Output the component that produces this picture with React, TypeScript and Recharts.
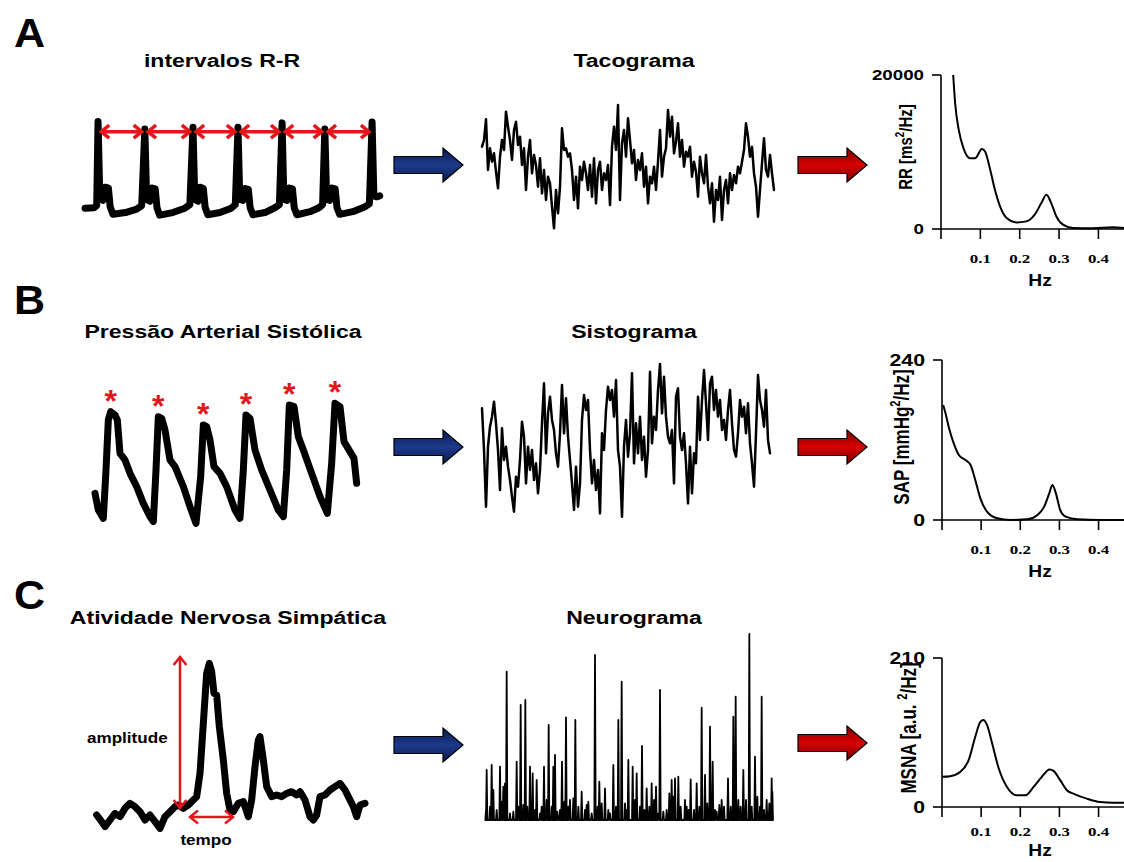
import React from "react";
import { LineChart, Line, XAxis, YAxis, ReferenceLine, ReferenceDot } from "recharts";

// ---------- A: ECG (s, mV) ----------
const ECG_TIME = [
  0.0, 0.2, 0.26, 0.29, 0.33, 0.4, 0.45, 0.52, 0.56, 0.62, 0.9, 1.15, 1.26,
  1.33, 1.37, 1.44, 1.49, 1.56, 1.6, 1.66, 1.95, 2.22, 2.33,
  2.4, 2.44, 2.51, 2.56, 2.63, 2.67, 2.73, 3.0, 3.25, 3.34,
  3.4, 3.44, 3.51, 3.56, 3.63, 3.67, 3.73, 4.0, 4.22, 4.32,
  4.38, 4.42, 4.49, 4.54, 4.61, 4.65, 4.71, 5.0, 5.2, 5.28,
  5.33, 5.37, 5.44, 5.49, 5.56, 5.6, 5.66, 5.95, 6.2, 6.32,
  6.38, 6.42, 6.48, 6.55,
];
const ECG_MV = [
  0.02, 0.03, 0.08, 2.0, 0.25, 0.2, 0.5, 0.48, 0.05, -0.12, -0.08, 0.0, 0.08,
  1.83, 0.22, 0.18, 0.48, 0.46, 0.03, -0.14, -0.08, 0.02, 0.1,
  1.87, 0.22, 0.18, 0.5, 0.47, 0.04, -0.13, -0.08, 0.02, 0.1,
  1.87, 0.22, 0.2, 0.47, 0.45, 0.03, -0.13, -0.08, 0.03, 0.1,
  1.97, 0.22, 0.2, 0.48, 0.46, 0.03, -0.13, -0.06, 0.03, 0.1,
  1.83, 0.22, 0.2, 0.48, 0.46, 0.03, -0.12, -0.06, 0.04, 0.12,
  1.99, 0.3, 0.28, 0.3,
];
const ECG_R_PEAKS = [0.29, 1.33, 2.4, 3.4, 4.38, 5.33, 6.38];

// Tacograma: RR interval (ms) per beat
const TACO_RR = [
  930, 950, 1012, 860, 925, 885, 910, 855, 805, 900,
  950, 920, 1035, 990, 950, 890, 980, 1005, 935, 960,
  875, 925, 800, 900, 950, 850, 905, 875, 810, 895,
  790, 860, 770, 840, 820, 750, 685, 800, 730, 810,
  985, 920, 925, 900, 910, 860, 770, 840, 745, 870,
  830, 885, 850, 800, 875, 780, 895, 760, 860, 885,
  800, 850, 830, 875, 755, 930, 990, 920, 1055, 770,
  940, 980, 900, 1015, 950, 880, 920, 830, 890, 860,
  910, 810, 870, 760, 840, 820, 870, 800, 885, 980,
  840, 900, 925, 1040, 960, 1020, 910, 945, 1000, 900,
  950, 870, 915, 900, 930, 840, 885, 855, 780, 900,
  850, 820, 905, 810, 760, 820, 705, 800, 770, 840,
  710, 800, 830, 760, 850, 800, 845, 820, 870, 850,
  885, 920, 1000, 960, 900, 930, 850, 810, 720, 800,
  880, 955, 860, 840, 905, 850, 800,
];

// RR spectrum
const RR_PSD_HZ = [0.031, 0.036, 0.045, 0.057, 0.074, 0.087, 0.104, 0.112, 0.125, 0.137, 0.15, 0.167, 0.192, 0.217, 0.238, 0.255, 0.268, 0.28, 0.293, 0.31, 0.335, 0.386, 0.436, 0.465];
const RR_PSD = [20000, 16300, 12900, 10500, 9200, 9200, 10400, 10050, 7700, 5100, 2950, 1430, 860, 990, 1860, 3370, 4450, 3370, 1640, 560, 130, 90, 220, 130];

// ---------- B: arterial pressure (s, mmHg) ----------
const BP_TIME = [
  0.75, 0.85, 1.0, 1.08, 1.15, 1.22, 1.35, 1.42, 1.5, 1.65,
  1.8, 2.0, 2.2, 2.4, 2.5, 2.58, 2.65, 2.75, 2.85, 3.0,
  3.15, 3.4, 3.6, 3.78, 3.92, 4.0, 4.1, 4.2, 4.32, 4.5,
  4.7, 4.95, 5.1, 5.2, 5.28, 5.4, 5.55, 5.75, 6.0, 6.25,
  6.4, 6.5, 6.58, 6.72, 6.85, 7.0, 7.25, 7.5, 7.72, 7.85,
  7.95, 8.1, 8.22, 8.4, 8.52, 8.6,
];
const BP_MMHG = [
  86, 76, 71, 100, 130, 135, 133, 130, 110, 106,
  98, 90, 80, 72, 69, 100, 132, 131, 124, 106,
  102, 90, 78, 68, 96, 127, 126, 118, 102, 98,
  90, 76, 71, 100, 133, 131, 112, 100, 88, 76,
  72, 100, 139, 138, 120, 112, 98, 84, 74, 104,
  140, 138, 117, 111, 107, 92,
];
const SAP_PEAK_TIME = [1.22, 2.65, 4.0, 5.28, 6.58, 7.95];

// Sistograma: SAP (mmHg) per beat
const SISTO_SAP = [
  132.5, 120, 103, 121, 127, 130, 134.5, 128, 120, 108,
  126.5, 117, 121, 115, 111, 106, 101.5, 112, 109, 117,
  128.5, 124, 110, 121, 114, 120, 111, 116, 107, 114,
  128, 140, 119, 131, 136, 129, 126, 119, 115, 125,
  139.5, 125, 135.5, 124, 117, 110, 102, 115, 103, 110,
  129, 136.5, 132, 135, 120, 110, 117, 108, 114, 101,
  125, 120, 132, 139, 135, 138, 130, 141, 120, 115,
  100, 121, 129, 118, 125, 143, 116, 128, 119, 130,
  117, 124, 112, 120, 143.5, 122, 130, 126, 138, 145.8,
  131, 142, 130, 124, 122, 126, 110, 136, 138.5, 124,
  120, 125, 116, 104, 121, 107, 119, 116, 136, 123,
  135, 144, 134, 123, 140, 142, 132, 138, 130, 135,
  126, 129, 123, 132, 138, 128, 120, 118, 125, 135,
  130, 133, 125, 134, 122, 116, 109, 125, 142.5, 135,
  132, 127, 138, 123, 119,
];

// SAP spectrum
const SAP_PSD_HZ = [0.003, 0.009, 0.017, 0.03, 0.043, 0.06, 0.073, 0.085, 0.098, 0.115, 0.141, 0.175, 0.218, 0.244, 0.261, 0.274, 0.282, 0.291, 0.302, 0.316, 0.346, 0.406, 0.465];
const SAP_PSD = [172.5, 160, 140, 115, 97.5, 90, 82.5, 60, 32.5, 12.5, 2.5, 0, 1, 7.5, 20, 40, 52.5, 40, 15, 5, 1, 0, 0];

// ---------- C: sympathetic nerve activity ----------
const MSNA_TIME = [
  1.1, 1.25, 1.35, 1.5, 1.65, 1.8, 1.95, 2.1, 2.25, 2.4,
  2.55, 2.7, 2.85, 3.0, 3.15, 3.3, 3.45, 3.55, 3.7, 3.85,
  4.0, 4.1, 4.2, 4.3, 4.4, 4.48, 4.55, 4.62, 4.7, 4.78,
  4.9, 5.0, 5.1, 5.2, 5.35, 5.5, 5.65, 5.75, 5.85, 5.95,
  6.0, 6.1, 6.2, 6.35, 6.5, 6.65, 6.8, 6.95, 7.1, 7.2,
  7.35, 7.5, 7.6, 7.7, 7.8, 7.95, 8.1, 8.25, 8.4, 8.55,
  8.65, 8.8, 8.9, 9.0, 9.15,
];
const MSNA_AMP = [
  7.5, 5.5, 4, 6, 8, 7, 9.5, 11, 10, 8.5,
  6, 7.5, 5.5, 3.5, 7, 8.5, 10, 10.5, 9.5, 10.5,
  12, 13, 20, 35, 50, 53, 50.5, 44, 43.5, 34,
  24, 14, 9, 8.5, 11, 11.5, 7, 12, 22, 30,
  31, 24, 16, 13, 13.5, 13, 14, 14.5, 13.5, 14.5,
  12, 7, 6, 7.5, 13, 13.5, 15, 16, 17, 15,
  13, 10, 7, 10.5, 11,
];

// Neurograma: burst times (s) and amplitudes (a.u.)
const NEURO_BURST_T = [
  4.8, 5.0, 6.0, 6.5, 7.0, 8.0, 9.0, 9.5, 10.0, 10.5,
  11.0, 12.0, 13.0, 14.0, 14.5, 15.2, 16.0, 16.6, 17.2, 18.0,
  18.8, 19.5, 20.0, 21.0, 21.5, 22.2, 23.0, 23.6, 24.5, 25.0,
  25.5, 26.2, 27.0, 27.6, 28.3, 28.8, 29.5, 30.0, 31.0, 31.6,
  32.5, 33.5, 34.5, 35.0, 35.5, 36.5, 37.5, 38.3, 38.8, 39.5,
  40.5, 41.5, 42.0, 43.0, 43.8, 44.5, 45.5, 46.5, 47.0, 47.5,
  48.8, 49.5, 50.0, 51.0, 51.6, 52.3, 53.0, 53.8, 54.5, 55.2,
  55.8, 56.5, 57.0, 58.0, 59.0, 59.8, 60.5, 61.0, 61.5, 62.5,
  63.2, 64.5, 65.0, 65.6, 66.2, 67.2, 68.0, 68.8, 69.5, 70.5,
  71.2, 72.0, 72.8, 73.5, 74.0, 74.8, 75.5, 76.2, 77.4, 78.2,
  79.0, 79.7, 80.5, 81.2, 82.0, 82.8, 83.8, 84.5, 85.5, 86.2,
  87.0, 87.5, 88.2, 89.0, 89.8, 90.5, 90.7,
];
const NEURO_BURST_AMP = [
  3, 15, 4, 16.5, 9, 3, 16, 5.5, 10, 11,
  44.5, 2, 2.5, 17.5, 4, 34.5, 4.5, 36, 4, 16,
  14, 3, 12, 2, 4, 16, 6, 28.5, 4, 16,
  19.5, 2.5, 3, 17.5, 5.5, 30.8, 4, 6, 6.5, 30,
  4, 8.5, 3, 4.5, 5.5, 2, 49.5, 4, 11.5, 5,
  9.5, 3, 2, 16.5, 4, 30, 41.5, 5, 3, 18,
  16, 6, 14, 4, 22.2, 3, 9.5, 4, 11, 6,
  10, 2, 39, 2.5, 3, 8, 12, 7, 12.5, 13,
  4, 6, 4, 3, 12.2, 3, 11, 4, 33.7, 13.5,
  5, 28, 17.5, 3, 2.5, 4.5, 6, 4, 12.5, 4,
  31, 37, 6, 4, 15, 6, 55.8, 4, 19, 7,
  4, 37, 3, 6, 5, 12.5, 8.5,
];

// MSNA spectrum
const MSNA_PSD_HZ = [0.0, 0.021, 0.047, 0.068, 0.085, 0.098, 0.106, 0.115, 0.128, 0.145, 0.166, 0.191, 0.213, 0.234, 0.255, 0.275, 0.285, 0.302, 0.319, 0.34, 0.37, 0.404, 0.438, 0.465];
const MSNA_PSD = [42.5, 43.4, 49.6, 66, 99, 120, 122.7, 115.6, 89.7, 54.3, 28.3, 16.5, 16.5, 28.3, 42.5, 52.9, 51, 37.8, 23.6, 17.9, 11.8, 7.1, 6.1, 6.1];

const FREQ_TICKS = [0, 0.1, 0.2, 0.3, 0.4];

const SANS = "'Liberation Sans', Arial, sans-serif";
const SERIF = "'Liberation Serif', 'Times New Roman', serif";
const RED = "#e3161b";

const zip = (xs: number[], ys: number[]) => xs.map((x, i) => ({ x, y: ys[i] }));

// red double-headed arrow drawn on a reference segment
const redArrow = (w: number, head: number) => (p: any) => {
  const { x1, y1, x2, y2 } = p;
  const dx = x2 - x1;
  const dy = y2 - y1;
  const len = Math.hypot(dx, dy) || 1;
  const ux = dx / len;
  const uy = dy / len;
  const nx = -uy;
  const ny = ux;
  const chev = (x: number, y: number, sx: number, sy: number) =>
    `${x - sx * head + nx * head * 0.8},${y - sy * head + ny * head * 0.8} ${x},${y} ${x - sx * head - nx * head * 0.8},${y - sy * head - ny * head * 0.8}`;
  return (
    <g>
      <line x1={x1} y1={y1} x2={x2} y2={y2} stroke={RED} strokeWidth={w} />
      <polyline points={chev(x2, y2, ux, uy)} fill="none" stroke={RED} strokeWidth={w} />
      <polyline points={chev(x1, y1, -ux, -uy)} fill="none" stroke={RED} strokeWidth={w} />
    </g>
  );
};

function Trace({ data, left, top, width, height, xDomain, yDomain, strokeWidth, children }: any) {
  return (
    <div style={{ position: "absolute", left, top }}>
      <LineChart width={width} height={height} data={data} margin={{ top: 0, right: 0, bottom: 0, left: 0 }}>
        <XAxis type="number" dataKey="x" domain={xDomain} hide />
        <YAxis type="number" domain={yDomain} hide />
        <Line
          type="linear"
          dataKey="y"
          stroke="#000"
          strokeWidth={strokeWidth}
          strokeLinejoin="round"
          strokeLinecap="round"
          dot={false}
          isAnimationActive={false}
        />
        {children}
      </LineChart>
    </div>
  );
}

const yTick = (size: number) => (p: any) => (
  <text
    x={0}
    y={0}
    transform={`translate(${p.x},${p.y}) scale(1.25,1)`}
    textAnchor="end"
    dy="0.36em"
    fontFamily={SANS}
    fontWeight={700}
    fontSize={size}
    fill="#000"
  >
    {p.payload.value}
  </text>
);

const xTick = (p: any) => {
  const v = p.payload.value;
  if (v === 0) return <g />;
  return (
    <text
      x={0}
      y={0}
      transform={`translate(${p.x},${p.y}) scale(1.3,1)`}
      textAnchor="middle"
      dy="0.75em"
      fontFamily={SERIF}
      fontWeight={700}
      fontSize={13}
      fill="#000"
    >
      {v.toFixed(1)}
    </text>
  );
};

function PsdChart({ hz, vals, top, height, marginTop, marginBottom, yAxisWidth, yMax, tickMargin, yFont }: any) {
  const data = zip(hz, vals);
  return (
    <div style={{ position: "absolute", left: 860, top }}>
      <LineChart width={264} height={height} data={data} margin={{ top: marginTop, right: 0, bottom: marginBottom, left: 0 }}>
        <XAxis
          type="number"
          dataKey="x"
          domain={[0, 0.465]}
          ticks={FREQ_TICKS}
          interval={0}
          height={31}
          tickSize={10}
          tickMargin={tickMargin}
          axisLine={{ stroke: "#000", strokeWidth: 1.6 }}
          tickLine={{ stroke: "#000", strokeWidth: 1.6 }}
          tick={xTick}
        />
        <YAxis
          type="number"
          domain={[0, yMax]}
          ticks={[0, yMax]}
          interval={0}
          width={yAxisWidth}
          tickSize={9}
          tickMargin={8}
          axisLine={{ stroke: "#000", strokeWidth: 1.6 }}
          tickLine={{ stroke: "#000", strokeWidth: 1.6 }}
          tick={yTick(yFont)}
        />
        <Line type="monotone" dataKey="y" stroke="#000" strokeWidth={2} dot={false} isAnimationActive={false} />
      </LineChart>
    </div>
  );
}

function Txt({ x, y, size, children, anchor = "middle", sx = 1.28, weight = 700 }: any) {
  const mid = anchor === "middle";
  return (
    <div
      style={{
        position: "absolute",
        left: x,
        top: y,
        transform: `translate(${mid ? "-50%" : "0"}, -50%) scaleX(${sx})`,
        transformOrigin: mid ? "center" : "left center",
        fontSize: size,
        fontWeight: weight,
        whiteSpace: "nowrap",
        lineHeight: 1,
        color: "#000",
      }}
    >
      {children}
    </div>
  );
}

function VLabel({ x, y, size, pre, post }: any) {
  return (
    <div
      style={{
        position: "absolute",
        left: x,
        top: y,
        transform: "translate(-50%, -50%) rotate(-90deg) scaleY(1.25)",
        fontSize: size,
        fontWeight: 700,
        whiteSpace: "nowrap",
        lineHeight: 1,
      }}
    >
      {pre}
      <span style={{ fontSize: "0.65em", position: "relative", top: "-0.6em" }}>2</span>
      {post}
    </div>
  );
}

const arrowPts = (x0: number, x1: number, cy: number) =>
  `${x0},${cy - 8.5} ${x1 - 20},${cy - 8.5} ${x1 - 20},${cy - 17} ${x1},${cy} ${x1 - 20},${cy + 17} ${x1 - 20},${cy + 8.5} ${x0},${cy + 8.5}`;

const FlowArrows = () => (
  <svg width={1124} height={862} style={{ position: "absolute", left: 0, top: 0, pointerEvents: "none" }}>
    <defs>
      <linearGradient id="blueG" x1="0" y1="0" x2="0" y2="1">
        <stop offset="0" stopColor="#0b1a4d" />
        <stop offset="0.5" stopColor="#1c3a8c" />
        <stop offset="1" stopColor="#0b1a4d" />
      </linearGradient>
      <linearGradient id="redG" x1="0" y1="0" x2="0" y2="1">
        <stop offset="0" stopColor="#7a0000" />
        <stop offset="0.5" stopColor="#d80000" />
        <stop offset="1" stopColor="#7a0000" />
      </linearGradient>
    </defs>
    {[165, 447, 745].map((cy) => (
      <polygon key={"b" + cy} points={arrowPts(394, 463, cy)} fill="url(#blueG)" stroke="#000" strokeWidth={1.2} />
    ))}
    {[165, 447, 743].map((cy) => (
      <polygon key={"r" + cy} points={arrowPts(798, 867, cy)} fill="url(#redG)" stroke="#000" strokeWidth={1.2} />
    ))}
  </svg>
);

export default function App() {
  const ecg = zip(ECG_TIME, ECG_MV);
  const taco = TACO_RR.map((v, i) => ({ x: i, y: v }));
  const bp = zip(BP_TIME, BP_MMHG);
  const sapPeaks = SAP_PEAK_TIME.map((t) => ({ t, v: BP_MMHG[BP_TIME.indexOf(t)] }));
  const sisto = SISTO_SAP.map((v, i) => ({ x: i, y: v }));
  const msna = zip(MSNA_TIME, MSNA_AMP);
  const neuro: { x: number; y: number }[] = [];
  NEURO_BURST_T.forEach((t, i) => {
    neuro.push({ x: t - 0.2, y: 0 }, { x: t, y: NEURO_BURST_AMP[i] }, { x: t + 0.2, y: 0 });
  });

  return (
    <div
      style={{
        position: "absolute",
        left: 0,
        top: 0,
        width: 1124,
        height: 862,
        overflow: "hidden",
        background: "#fff",
        fontFamily: SANS,
      }}
    >
      <style>{`body{margin:0} .recharts-surface{overflow:visible}`}</style>

      {/* panel letters */}
      <Txt x={14} y={33} size={41} anchor="left" sx={1.05}>A</Txt>
      <Txt x={14} y={300} size={41} anchor="left" sx={1.05}>B</Txt>
      <Txt x={14} y={595} size={41} anchor="left" sx={1.05}>C</Txt>

      {/* titles */}
      <Txt x={222} y={61} size={18}>intervalos R-R</Txt>
      <Txt x={634} y={61} size={18}>Tacograma</Txt>
      <Txt x={223} y={332} size={18}>Pressão Arterial Sistólica</Txt>
      <Txt x={634} y={332} size={18}>Sistograma</Txt>
      <Txt x={228} y={618} size={18}>Atividade Nervosa Simpática</Txt>
      <Txt x={634} y={618} size={18}>Neurograma</Txt>

      {/* A: ECG with R-R intervals */}
      <Trace data={ecg} left={85} top={115} width={300} height={105} xDomain={[0, 6.667]} yDomain={[-0.25, 2.15]} strokeWidth={7}>
        {ECG_R_PEAKS.slice(0, -1).map((t, i) => (
          <ReferenceLine
            key={i}
            segment={[
              { x: t + 0.07, y: 1.77 },
              { x: ECG_R_PEAKS[i + 1] - 0.07, y: 1.77 },
            ]}
            ifOverflow="visible"
            shape={redArrow(3.5, 8)}
          />
        ))}
      </Trace>
      <Trace data={taco} left={480} top={100} width={296} height={135} xDomain={[-1, 147]} yDomain={[665, 1070]} strokeWidth={2.5} />

      {/* B: arterial pressure with systolic peaks */}
      <Trace data={bp} left={90} top={380} width={270} height={150} xDomain={[0.6, 8.7]} yDomain={[64, 154]} strokeWidth={7}>
        {sapPeaks.map((p, i) => (
          <ReferenceDot
            key={i}
            x={p.t}
            y={p.v}
            r={0}
            ifOverflow="visible"
            shape={(s: any) => (
              <text x={s.cx} y={s.cy} textAnchor="middle" fontFamily={SANS} fontWeight={700} fontSize={32} fill={RED}>
                *
              </text>
            )}
          />
        ))}
      </Trace>
      <Trace data={sisto} left={480} top={355} width={292} height={170} xDomain={[-1, 145]} yDomain={[97.5, 148.5]} strokeWidth={2.5} />

      {/* C: nerve activity */}
      <Trace data={msna} left={90} top={650} width={285} height={195} xDomain={[0.9, 9.45]} yDomain={[-1.5, 57]} strokeWidth={7}>
        <ReferenceLine segment={[{ x: 3.6, y: 54.9 }, { x: 3.6, y: 9.6 }]} ifOverflow="visible" shape={redArrow(2.5, 8)} />
        <ReferenceLine segment={[{ x: 3.9, y: 6.9 }, { x: 5.19, y: 6.9 }]} ifOverflow="visible" shape={redArrow(2.5, 8)} />
      </Trace>
      <Txt x={87} y={738} size={14} anchor="left" sx={1.22}>amplitude</Txt>
      <Txt x={206} y={840} size={14} sx={1.22}>tempo</Txt>
      <Trace data={neuro} left={480} top={630} width={300} height={195} xDomain={[3, 93]} yDomain={[-1.5, 57]} strokeWidth={1.8} />

      <FlowArrows />

      {/* spectra */}
      <PsdChart hz={RR_PSD_HZ} vals={RR_PSD} top={60} height={240} marginTop={15} marginBottom={40} yAxisWidth={81} yMax={20000} tickMargin={14} yFont={15} />
      <VLabel x={905} y={147} size={15} pre="RR [ms" post="/Hz]" />
      <Txt x={1040} y={281} size={16} sx={1.2}>Hz</Txt>

      <PsdChart hz={SAP_PSD_HZ} vals={SAP_PSD} top={350} height={240} marginTop={10} marginBottom={39} yAxisWidth={82} yMax={240} tickMargin={14} yFont={17} />
      <VLabel x={902} y={437} size={17} pre="SAP [mmHg" post="/Hz]" />
      <Txt x={1040} y={572} size={16} sx={1.2}>Hz</Txt>

      <PsdChart hz={MSNA_PSD_HZ} vals={MSNA_PSD} top={640} height={222} marginTop={18} marginBottom={24} yAxisWidth={82} yMax={210} tickMargin={9} yFont={17} />
      <VLabel x={909} y={728} size={17} pre="MSNA [a.u. " post="/Hz]" />
      <Txt x={1040} y={851} size={16} sx={1.2}>Hz</Txt>
    </div>
  );
}
